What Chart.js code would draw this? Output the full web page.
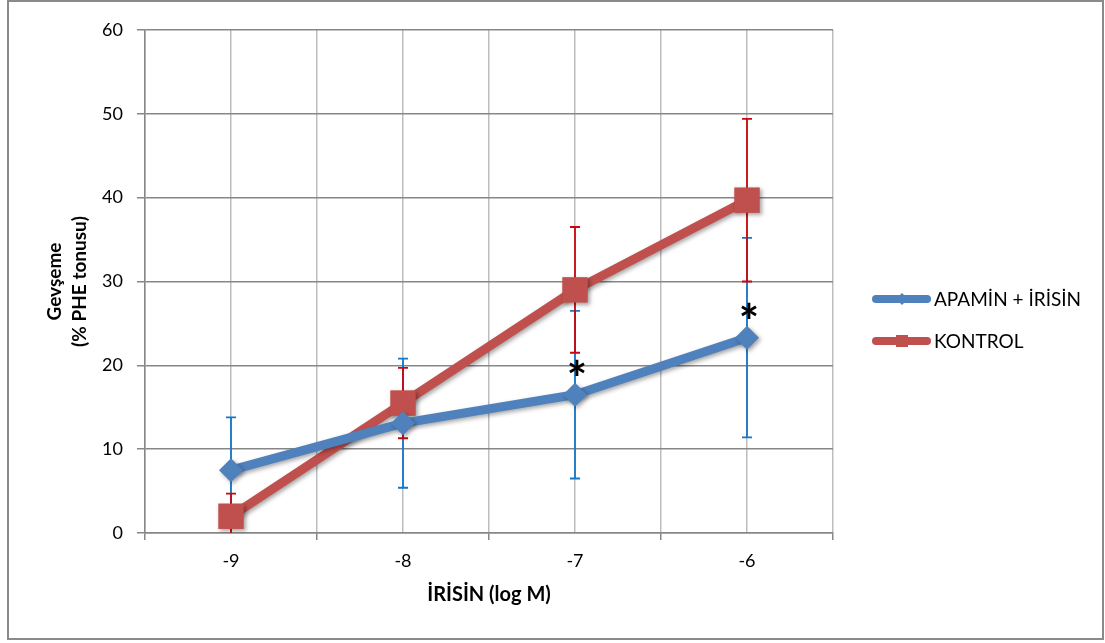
<!DOCTYPE html>
<html>
<head>
<meta charset="utf-8">
<script src="https://cdn.jsdelivr.net/npm/chart.js@4.4.1/dist/chart.umd.min.js"></script>
<style>
html, body { margin: 0; padding: 0; background: #fff; }
canvas { display: block; }
</style>
</head>
<body>
<canvas id="relaxChart" width="1105" height="643"></canvas>
<script>
// values
const doses = [-9, -8, -7, -6];
const apaminIrisin = [7.5, 13.1, 16.5, 23.3];
const apaminIrisinErr = [6.3, 7.7, 10.0, 11.9];
const kontrol = [2.0, 15.5, 29.0, 39.7];
const kontrolErr = [2.7, 4.2, 7.5, 9.7];
const starDoses = [-7, -6];
const starLevels = [19.7, 26.6];
const yTicks = [0, 10, 20, 30, 40, 50, 60];

const FONT = "Lato";

function toPoints(vals) {
    return doses.map((d, i) => ({ x: d, y: vals[i] }));
}

const frame = {
    id: "frame",
    beforeDraw(chart) {
        const ctx = chart.ctx;
        ctx.save();
        ctx.fillStyle = "#fff";
        ctx.fillRect(0, 0, chart.width, chart.height);
        ctx.strokeStyle = "#8a8a8a";
        ctx.lineWidth = 2;
        ctx.strokeRect(8, 1, 1095, 638);
        ctx.restore();
    }
};

const errorBars = {
    id: "errorBars",
    beforeDatasetsDraw(chart) {
        const { ctx, chartArea, scales: { x, y } } = chart;
        ctx.save();
        ctx.beginPath();
        ctx.rect(chartArea.left, chartArea.top, chartArea.right - chartArea.left, chartArea.bottom - chartArea.top);
        ctx.clip();
        chart.data.datasets.forEach(ds => {
            ctx.strokeStyle = ds.errorColor;
            ctx.lineWidth = 1.8;
            ds.data.forEach((p, i) => {
                const px = x.getPixelForValue(p.x);
                const top = y.getPixelForValue(p.y + ds.errors[i]);
                const bot = y.getPixelForValue(p.y - ds.errors[i]);
                ctx.beginPath();
                ctx.moveTo(px, top);
                ctx.lineTo(px, bot);
                ctx.moveTo(px - 5, top);
                ctx.lineTo(px + 5, top);
                ctx.moveTo(px - 5, bot);
                ctx.lineTo(px + 5, bot);
                ctx.stroke();
            });
        });
        ctx.restore();
    }
};

const shadow = {
    id: "shadow",
    beforeDatasetDraw(chart) {
        const c = chart.ctx;
        c.save();
        c.shadowColor = "rgba(0,0,0,0.35)";
        c.shadowBlur = 4;
        c.shadowOffsetX = 2;
        c.shadowOffsetY = 2;
    },
    afterDatasetDraw(chart) {
        chart.ctx.restore();
    }
};

const stars = {
    id: "stars",
    afterDatasetsDraw(chart) {
        const { ctx, scales: { x, y } } = chart;
        ctx.save();
        ctx.fillStyle = "#000";
        ctx.font = "bold 48px " + FONT;
        ctx.textAlign = "center";
        ctx.textBaseline = "alphabetic";
        starDoses.forEach((d, i) => {
            const m = ctx.measureText("*");
            const cy = y.getPixelForValue(starLevels[i]);
            const off = (m.actualBoundingBoxAscent - m.actualBoundingBoxDescent) / 2;
            ctx.fillText("*", x.getPixelForValue(d) + 2, cy + off);
        });
        ctx.restore();
    }
};

const sideLegend = {
    id: "sideLegend",
    afterDraw(chart) {
        const ctx = chart.ctx;
        ctx.save();
        chart.data.datasets.forEach((ds, i) => {
            const yy = 299 + i * 42;
            ctx.strokeStyle = ds.borderColor;
            ctx.lineWidth = 8;
            ctx.lineCap = "round";
            ctx.beginPath();
            ctx.moveTo(876, yy);
            ctx.lineTo(927, yy);
            ctx.stroke();
            ctx.fillStyle = ds.borderColor;
            if (ds.pointStyle === "rect") {
                ctx.fillRect(896, yy - 6, 12, 12);
            } else {
                ctx.beginPath();
                ctx.moveTo(902, yy - 6);
                ctx.lineTo(908, yy);
                ctx.lineTo(902, yy + 6);
                ctx.lineTo(896, yy);
                ctx.closePath();
                ctx.fill();
            }
            ctx.fillStyle = "#000";
            ctx.font = "19px " + FONT;
            ctx.textBaseline = "middle";
            ctx.fillText(ds.label, 934, yy + 1);
        });
        ctx.restore();
    }
};

function draw() {
    const ctx = document.getElementById("relaxChart").getContext("2d");
    new Chart(ctx, {
        type: "line",
        data: {
            datasets: [{
                label: "APAMİN + İRİSİN",
                data: toPoints(apaminIrisin),
                errors: apaminIrisinErr,
                errorColor: "#1577c9",
                borderColor: "#4f81bd",
                backgroundColor: "#4f81bd",
                borderWidth: 9,
                pointStyle: "rectRot",
                pointRadius: 12,
                pointBorderWidth: 0,
                pointBackgroundColor: "#4f81bd",
                tension: 0
            }, {
                label: "KONTROL",
                data: toPoints(kontrol),
                errors: kontrolErr,
                errorColor: "#c8080e",
                borderColor: "#c0504d",
                backgroundColor: "#c0504d",
                borderWidth: 9,
                pointStyle: "rect",
                pointRadius: 18,
                pointBorderWidth: 0,
                pointBackgroundColor: "#c0504d",
                tension: 0
            }]
        },
        options: {
            responsive: false,
            animation: false,
            devicePixelRatio: 1,
            layout: { padding: { top: 30, right: 272, bottom: 0, left: 0 } },
            plugins: {
                legend: { display: false },
                tooltip: { enabled: false }
            },
            scales: {
                x: {
                    type: "linear",
                    min: doses[0] - 0.5,
                    max: doses[doses.length - 1] + 0.5,
                    afterFit: s => { s.height = 110; },
                    ticks: {
                        stepSize: 0.5,
                        autoSkip: false,
                        maxRotation: 0,
                        padding: 10,
                        color: "#000",
                        font: { family: FONT, size: 18 },
                        callback: v => Number.isInteger(v) ? String(v) : ""
                    },
                    grid: {
                        color: "#bdbdbd",
                        lineWidth: 1.5,
                        tickLength: 7,
                        tickColor: c => (c.tick && Number.isInteger(c.tick.value)) ? "rgba(0,0,0,0)" : "#878787"
                    },
                    border: { color: "#878787", width: 1.5 },
                    title: {
                        display: true,
                        text: "İRİSİN (log M)",
                        color: "#000",
                        font: { family: FONT, size: 20, weight: "bold", lineHeight: 1.3 },
                        padding: { top: 0, bottom: 35 }
                    }
                },
                y: {
                    min: yTicks[0],
                    max: yTicks[yTicks.length - 1],
                    afterFit: s => { s.width = 145; },
                    ticks: {
                        stepSize: yTicks[1] - yTicks[0],
                        padding: 14,
                        color: "#000",
                        font: { family: FONT, size: 18 }
                    },
                    grid: { color: "#878787", lineWidth: 1.5, tickLength: 8, tickColor: "#878787" },
                    border: { color: "#878787", width: 1.5 },
                    title: {
                        display: true,
                        text: ["Gevşeme", "(% PHE tonusu)"],
                        color: "#000",
                        font: { family: FONT, size: 19, weight: "bold", lineHeight: 1.3 },
                        padding: { top: 43, bottom: 0 }
                    }
                }
            }
        },
        plugins: [frame, errorBars, shadow, stars, sideLegend]
    });
}

document.fonts.load("18px " + FONT).then(draw, draw);
</script>
</body>
</html>
